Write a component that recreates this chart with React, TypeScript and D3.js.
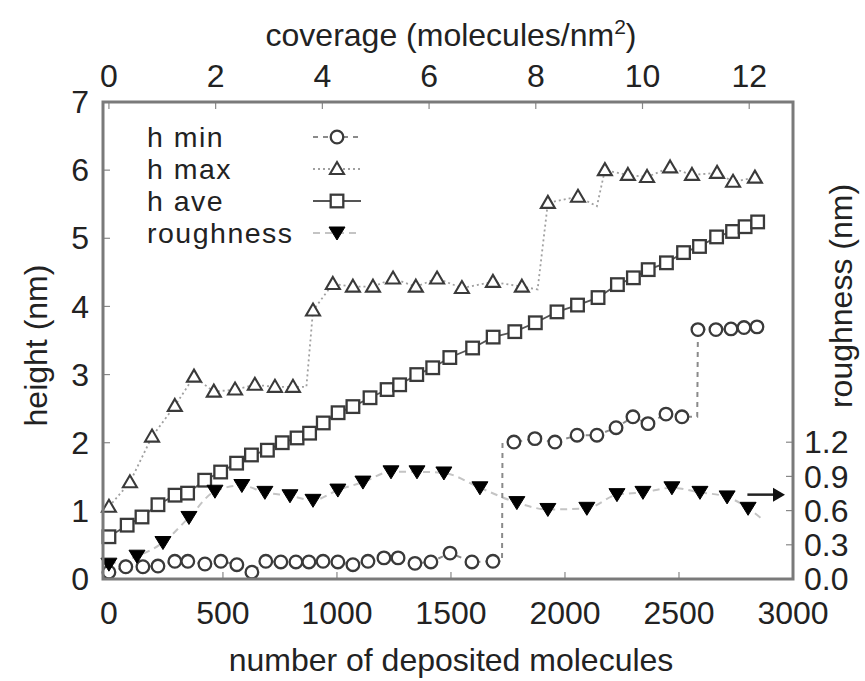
import * as d3 from 'd3';

// x positions (number of deposited molecules) and values
const hAveN = [0, 80, 145, 215, 290, 345, 420, 490, 560, 625, 695, 760, 825, 880, 940, 1005, 1070, 1145, 1220, 1275, 1350, 1420, 1495, 1595, 1685, 1780, 1870, 1965, 2055, 2145, 2230, 2300, 2365, 2445, 2520, 2590, 2665, 2735, 2790, 2845];
const hAve = [0.62, 0.79, 0.91, 1.09, 1.23, 1.26, 1.45, 1.57, 1.7, 1.82, 1.89, 2.0, 2.07, 2.14, 2.29, 2.44, 2.53, 2.66, 2.78, 2.85, 3.0, 3.1, 3.25, 3.39, 3.55, 3.63, 3.76, 3.92, 4.02, 4.13, 4.32, 4.42, 4.54, 4.64, 4.79, 4.88, 5.02, 5.1, 5.17, 5.24];

const hMaxN = [0, 92, 189, 289, 373, 460, 553, 640, 728, 807, 895, 982, 1070, 1158, 1246, 1346, 1439, 1548, 1684, 1811, 1925, 2057, 2175, 2276, 2360, 2461, 2557, 2667, 2737, 2833];
const hMax = [1.06, 1.42, 2.09, 2.54, 2.97, 2.75, 2.78, 2.85, 2.82, 2.82, 3.94, 4.33, 4.29, 4.29, 4.41, 4.29, 4.41, 4.27, 4.36, 4.29, 5.52, 5.61, 6.0, 5.93, 5.9, 6.04, 5.93, 5.96, 5.83, 5.89];
// line-only vertices (no marker) where the dotted line jumps
const hMaxLineN = [866, 1880, 2140];
const hMaxLine = [2.82, 4.25, 5.47];

const hMinN = [0, 74, 149, 215, 289, 346, 421, 491, 561, 627, 688, 754, 820, 877, 939, 1004, 1070, 1136, 1206, 1268, 1342, 1412, 1496, 1592, 1684, 1776, 1868, 1956, 2053, 2140, 2224, 2298, 2364, 2443, 2513, 2583, 2662, 2728, 2785, 2842];
const hMin = [0.1, 0.18, 0.18, 0.19, 0.26, 0.26, 0.22, 0.26, 0.21, 0.1, 0.26, 0.25, 0.25, 0.25, 0.26, 0.25, 0.21, 0.26, 0.31, 0.31, 0.23, 0.25, 0.38, 0.25, 0.26, 2.01, 2.06, 2.01, 2.11, 2.11, 2.22, 2.38, 2.28, 2.42, 2.38, 3.66, 3.66, 3.67, 3.69, 3.7];
const hMinLineN = [1724, 1726, 2580];
const hMinLine = [0.26, 2.0, 2.38];

const roughN = [0, 123, 237, 351, 465, 583, 684, 794, 895, 1004, 1114, 1237, 1351, 1469, 1627, 1789, 1925, 2096, 2228, 2342, 2469, 2592, 2711, 2803];
const rough = [0.13, 0.2, 0.32, 0.54, 0.77, 0.82, 0.76, 0.73, 0.69, 0.78, 0.85, 0.94, 0.94, 0.93, 0.8, 0.67, 0.61, 0.62, 0.74, 0.76, 0.8, 0.76, 0.72, 0.62];
const roughLineN = [2868];
const roughLine = [0.52];

// arrow pointing at the right axis (roughness)
const arrowN = [2800, 2965];
const arrowR = 0.74;

const xTicks = [0, 500, 1000, 1500, 2000, 2500, 3000];
const covTicks = [0, 2, 4, 6, 8, 10, 12];
const yTicks = [0, 1, 2, 3, 4, 5, 6, 7];
const rTicks = [0, 0.3, 0.6, 0.9, 1.2];
const molPerNm2 = 234;

const legendItems = ['h min', 'h max', 'h ave', 'roughness'];

const W = 865;
const H = 681;
const L = 103, R = 793, T = 102, B = 579;
const FONT = 'Liberation Sans, Arial, sans-serif';
const TXT = '#222';
const FS = 32;

const x = d3.scaleLinear().domain([-26, 3000]).range([L, R]);
const cov = d3.scaleLinear().domain([-26 / molPerNm2, 3000 / molPerNm2]).range([L, R]);
const y = d3.scaleLinear().domain([0, 7]).range([B, T]);
const yr = d3.scaleLinear().domain([0, (B - T) / 114]).range([B, T]);

type P = { n: number; v: number };
const zip = (n: number[], v: number[]): P[] => n.map((d, i) => ({ n: d, v: v[i] }));
const merge = (a: P[], b: P[]) => [...a, ...b].sort((p, q) => p.n - q.n);

const aveP = zip(hAveN, hAve);
const maxP = zip(hMaxN, hMax);
const minP = zip(hMinN, hMin);
const rP = zip(roughN, rough);

const lineH = d3.line<P>().x((d) => x(d.n)).y((d) => y(d.v));
const lineR = d3.line<P>().x((d) => x(d.n)).y((d) => yr(d.v)).curve(d3.curveMonotoneX);

const styles = {
  min: { stroke: '#8a8a8a', dash: '5,5', width: 2 },
  max: { stroke: '#a0a0a0', dash: '2,3', width: 1.8 },
  ave: { stroke: '#555', dash: '', width: 1.8 },
  rough: { stroke: '#c4c4c4', dash: '7,5', width: 2 },
};

function Circle({ cx, cy }: { cx: number; cy: number }) {
  return <circle cx={cx} cy={cy} r={6.3} fill="#fff" stroke="#3a3a3a" strokeWidth={2.3} />;
}
function Square({ cx, cy }: { cx: number; cy: number }) {
  return <rect x={cx - 6.3} y={cy - 6.3} width={12.6} height={12.6} fill="#fff" stroke="#3a3a3a" strokeWidth={2.3} />;
}
function TriUp({ cx, cy }: { cx: number; cy: number }) {
  return <path d={`M${cx},${cy - 7}L${cx + 7},${cy + 5}L${cx - 7},${cy + 5}Z`} fill="#fff" stroke="#3a3a3a" strokeWidth={2.1} />;
}
function TriDown({ cx, cy }: { cx: number; cy: number }) {
  return <path d={`M${cx - 8},${cy - 6}L${cx + 8},${cy - 6}L${cx},${cy + 7}Z`} fill="#000" stroke="#000" strokeWidth={1} />;
}

export default function App() {
  const legendY = [137, 169, 201, 233];
  const sample = [
    { s: styles.min, M: Circle },
    { s: styles.max, M: TriUp },
    { s: styles.ave, M: Square },
    { s: styles.rough, M: TriDown },
  ];
  return (
    <svg width={W} height={H} style={{ position: 'absolute', left: 0, top: 0, background: '#fff' }} fontFamily={FONT}>
      <rect width={W} height={H} fill="#fff" />
      {/* ticks, inward */}
      <g stroke="#888" strokeWidth={1.2}>
        {xTicks.map((t) => (
          <line key={'bx' + t} x1={x(t)} x2={x(t)} y1={B} y2={B - 7} />
        ))}
        {covTicks.map((t) => (
          <line key={'tx' + t} x1={cov(t)} x2={cov(t)} y1={T} y2={T + 7} />
        ))}
        {yTicks.map((t) => (
          <line key={'ly' + t} x1={L} x2={L + 7} y1={y(t)} y2={y(t)} />
        ))}
        {rTicks.map((t) => (
          <line key={'ry' + t} x1={R} x2={R - 7} y1={yr(t)} y2={yr(t)} />
        ))}
      </g>

      {/* series lines */}
      <path d={lineR(merge(rP, zip(roughLineN, roughLine))) || ''} fill="none" stroke={styles.rough.stroke} strokeWidth={styles.rough.width} strokeDasharray={styles.rough.dash} />
      <path d={lineH(merge(minP, zip(hMinLineN, hMinLine))) || ''} fill="none" stroke={styles.min.stroke} strokeWidth={styles.min.width} strokeDasharray={styles.min.dash} />
      <path d={lineH(merge(maxP, zip(hMaxLineN, hMaxLine))) || ''} fill="none" stroke={styles.max.stroke} strokeWidth={styles.max.width} strokeDasharray={styles.max.dash} />
      <path d={lineH(aveP) || ''} fill="none" stroke={styles.ave.stroke} strokeWidth={styles.ave.width} />

      {/* markers */}
      {minP.map((d, i) => <Circle key={'c' + i} cx={x(d.n)} cy={y(d.v)} />)}
      {maxP.map((d, i) => <TriUp key={'t' + i} cx={x(d.n)} cy={y(d.v)} />)}
      {aveP.map((d, i) => <Square key={'s' + i} cx={x(d.n)} cy={y(d.v)} />)}
      {rP.map((d, i) => <TriDown key={'r' + i} cx={x(d.n)} cy={yr(d.v)} />)}

      {/* arrow */}
      <line x1={x(arrowN[0])} x2={x(arrowN[1]) - 8} y1={yr(arrowR)} y2={yr(arrowR)} stroke="#222" strokeWidth={2.5} />
      <path d={`M${x(arrowN[1])},${yr(arrowR)}l-12,-7v14z`} fill="#111" />

      {/* frame */}
      <rect x={L} y={T} width={R - L} height={B - T} fill="none" stroke="#7a7a7a" strokeWidth={3} />

      {/* legend */}
      {legendItems.map((name, i) => {
        const { s, M } = sample[i];
        return (
          <g key={name}>
            <text x={147} y={legendY[i]} dy="0.35em" fontSize={28.5} letterSpacing={1.5} fill={TXT}>{name}</text>
            <line x1={313} x2={361} y1={legendY[i]} y2={legendY[i]} stroke={s.stroke} strokeWidth={s.width} strokeDasharray={s.dash} />
            <M cx={337} cy={legendY[i]} />
          </g>
        );
      })}

      {/* tick labels */}
      <g fontSize={FS} fill={TXT}>
        {xTicks.map((t) => (
          <text key={'bl' + t} x={x(t)} y={613} dy="0.35em" textAnchor="middle">{t}</text>
        ))}
        {covTicks.map((t) => (
          <text key={'tl' + t} x={cov(t)} y={76} dy="0.35em" textAnchor="middle">{t}</text>
        ))}
        {yTicks.map((t) => (
          <text key={'ll' + t} x={89} y={y(t)} dy="0.35em" textAnchor="end">{t}</text>
        ))}
        {rTicks.map((t) => (
          <text key={'rl' + t} x={804} y={yr(t)} dy="0.35em" textAnchor="start">{t.toFixed(1)}</text>
        ))}
      </g>

      {/* axis titles */}
      <g fontSize={FS} fill={TXT}>
        <text x={451} y={660} dy="0.35em" textAnchor="middle">number of deposited molecules</text>
        <text x={451} y={35} dy="0.35em" textAnchor="middle">
          coverage (molecules/nm<tspan dy={-12} fontSize={21}>2</tspan><tspan dy={12}>)</tspan>
        </text>
        <text transform={`translate(36,${(T + B) / 2 + 5}) rotate(-90)`} dy="0.35em" textAnchor="middle">height (nm)</text>
        <text transform={`translate(841,296) rotate(-90)`} dy="0.35em" textAnchor="middle">roughness (nm)</text>
      </g>
    </svg>
  );
}
